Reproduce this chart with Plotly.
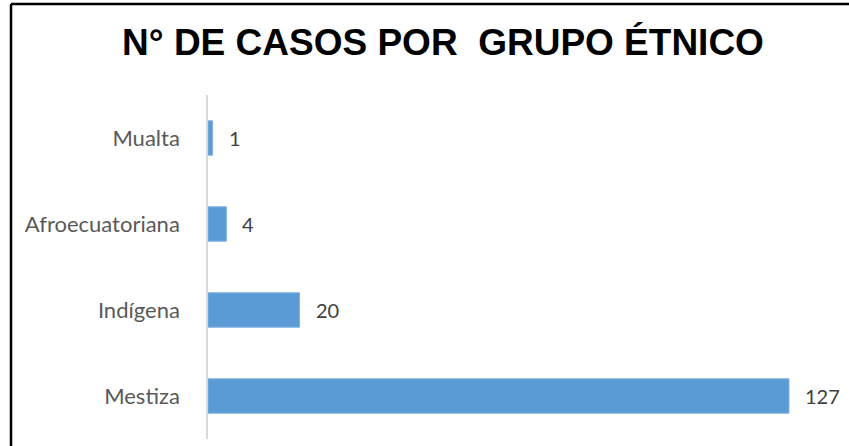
import plotly.graph_objects as go

categories = ["Mestiza", "Indígena", "Afroecuatoriana", "Mualta"]
values = [127, 20, 4, 1]
title_text = "N° DE CASOS POR\u00a0 GRUPO ÉTNICO"

W, H = 849, 446
L, R, T, B = 208, 19, 95, 7
pw, ph = W - L - R, H - T - B

def px_x(p):
    return (p - L) / pw

def px_y(p):
    return (H - B - p) / ph

fig = go.Figure()
fig.add_trace(go.Bar(
    y=categories, x=values, orientation="h",
    marker=dict(color="#5b9bd5", line=dict(color="#7fb1e0", width=1)),
    width=0.4,
))

for c, v in zip(categories, values):
    fig.add_annotation(x=v, y=c, text=str(v), showarrow=False,
                       xanchor="left", xshift=14,
                       font=dict(family="Lato, Carlito, sans-serif", size=20, color="#404040"))

fig.update_layout(
    width=W, height=H,
    margin=dict(l=L, r=R, t=T, b=B),
    paper_bgcolor="white", plot_bgcolor="white",
    showlegend=False,
    title=dict(text=title_text, x=443 / W, xref="container", xanchor="center",
               y=1 - 42 / H, yref="container", yanchor="middle",
               font=dict(family="Liberation Sans, Arial, sans-serif", size=37, color="black", weight="bold")),
    xaxis=dict(range=[0, 127 * pw / 581], visible=False, fixedrange=True),
    yaxis=dict(showline=True, linecolor="#d9d9d9", linewidth=1.5, showgrid=False,
               ticks="", ticklabelstandoff=22, zeroline=False,
               tickfont=dict(family="Lato, Carlito, sans-serif", size=22, color="#595959")),
    shapes=[
        dict(type="line", xref="paper", yref="paper", x0=px_x(11), x1=px_x(11),
             y0=px_y(4), y1=px_y(446), line=dict(color="black", width=2.5)),
        dict(type="line", xref="paper", yref="paper", x0=px_x(11), x1=px_x(849),
             y0=px_y(4), y1=px_y(4), line=dict(color="black", width=2.5)),
    ],
)

fig.write_html("out.html")
